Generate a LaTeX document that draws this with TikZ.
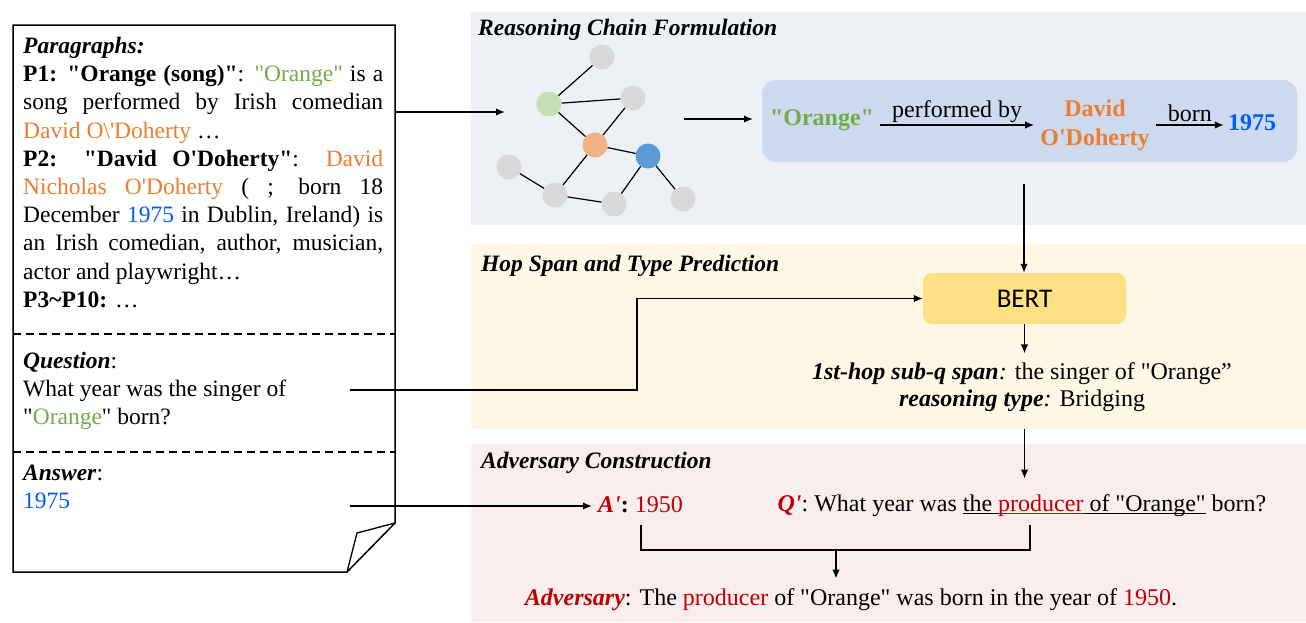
\documentclass[tikz,border=0pt]{standalone}
\usepackage{fontspec}
\setmainfont{Liberation Serif}[Ligatures=TeXOff]
\newfontfamily\bertfont{Carlito}
\usetikzlibrary{arrows.meta,positioning}

\definecolor{qgreen}{RGB}{112,173,71}
\definecolor{qorange}{RGB}{237,125,49}
\definecolor{qblue}{RGB}{0,92,255}
\definecolor{qred}{RGB}{192,0,0}
\definecolor{pnlgray}{RGB}{237,240,245}
\definecolor{pnlyellow}{RGB}{254,247,230}
\definecolor{pnlpink}{RGB}{249,237,237}
\definecolor{chainfill}{RGB}{205,218,240}
\definecolor{bertfill}{RGB}{255,224,133}
\definecolor{ngray}{RGB}{217,217,217}
\definecolor{ngreen}{RGB}{197,224,180}
\definecolor{norange}{RGB}{244,177,131}
\definecolor{nblue}{RGB}{91,155,213}

\newsavebox\ulbox
\newcommand\ulpart[1]{\sbox\ulbox{#1}\rlap{\rule[-3pt]{\wd\ulbox}{1.4pt}}\usebox\ulbox}

\tikzset{
	arr/.style={-{Latex[length=9pt,width=7.5pt]}, line width=1.5pt},
	gnode/.style={circle, minimum size=25pt, inner sep=0pt},
	gedge/.style={line width=1.2pt},
	paneltitle/.style={anchor=base west, inner sep=0pt, font=\fontsize{23.5}{28}\selectfont\bfseries\itshape},
	doctext/.style={anchor=north west, inner sep=0pt, text width=360pt, align=justify, font=\fontsize{23.5}{28.2}\selectfont},
	txt/.style={font=\fontsize{24}{28}\selectfont},
	chainword/.style={font=\fontsize{24}{29}\selectfont\bfseries},
}

\begin{document}
\begin{tikzpicture}[x=1pt, y=-1pt]
	\useasboundingbox (0,0) rectangle (1306,622);
	\fill[pnlgray] (471,12) rectangle (1306,225);
	\fill[pnlyellow] (471,244) rectangle (1306,429);
	\fill[pnlpink] (471,444) rectangle (1306,622);

	\draw[line width=1.5pt] (13,25) -- (395,25) -- (395,523) -- (347,572) -- (13,572) -- cycle;
	\draw[line width=1.3pt] (347,572) -- (357,533) -- (395,523);
	\draw[line width=1.8pt, dash pattern=on 8pt off 5pt] (13,334) -- (395,334) (13,452) -- (395,452);

	\node[doctext] (paras) at (23,37) {\textbf{\textit{Paragraphs:}}\\
		\textbf{P1: "Orange (song)"}: \textcolor{qgreen}{"Orange"} is a\linebreak
		song performed by Irish comedian\linebreak
		\textcolor{qorange}{David O\textbackslash'Doherty} …\\
		\textbf{P2: "David O'Doherty"}: \textcolor{qorange}{David\linebreak
		Nicholas O'Doherty} ( ; born 18\linebreak
		December \textcolor{qblue}{1975} in Dublin, Ireland) is\linebreak
		an Irish comedian, author, musician,\linebreak
		actor and playwright…\\
		\textbf{P3\textasciitilde P10:} …};
	\node[doctext] (question) at (23,352) {\textbf{\textit{Question}}:\\
		What year was the singer of\\
		"\textcolor{qgreen}{Orange}" born?};
	\node[doctext] (answer) at (23,465) {\textbf{\textit{Answer}}:\\
		\textcolor{qblue}{1975}};
	\coordinate (pout) at (395,112);
	\coordinate (qout) at (350,390);
	\coordinate (aout) at (350,506);

	\node[paneltitle] (rtitle) at (478,35) {Reasoning Chain Formulation};
	\node[paneltitle] (htitle) at (481,271) {Hop Span and Type Prediction};
	\node[paneltitle] (atitle) at (481,468) {Adversary Construction};

	\node[gnode, fill=ngray] (g1) at (602,57) {};
	\node[gnode, fill=ngray] (g2) at (633,98) {};
	\node[gnode, fill=ngray] (g3) at (509,167) {};
	\node[gnode, fill=ngray] (g4) at (555,195) {};
	\node[gnode, fill=ngray] (g5) at (614,204) {};
	\node[gnode, fill=ngray] (g6) at (683,199) {};
	\node[gnode, fill=ngreen] (nsong) at (549,104) {};
	\node[gnode, fill=norange] (nsinger) at (595,145) {};
	\node[gnode, fill=nblue] (nyear) at (648,156) {};
	\foreach \a/\b in {nsong/g1, nsong/g2, nsong/nsinger, g2/nsinger, nsinger/nyear, nsinger/g4, g3/g4, g4/g5, g5/nyear, nyear/g6}
		\draw[gedge] (\a) -- (\b);

	\coordinate (gin) at (505,112);
	\coordinate (gout) at (684,119);
	\coordinate (cin) at (753,119);
	\draw[arr] (pout) -- (gin);
	\draw[arr] (gout) -- (cin);

	\node[fill=chainfill, rounded corners=14pt, minimum width=535pt, minimum height=82pt] (chain) at (1029.5,121) {};
	\node[chainword, text=qgreen, anchor=base, inner xsep=6pt] (orng) at (822,125) {"Orange"};
	\node[chainword, text=qorange, align=center, inner xsep=6pt] (david) at (1095,125) {David\\O'Doherty};
	\node[chainword, text=qblue, anchor=base, inner xsep=4pt] (year) at (1252,130) {1975};
	\draw[arr] (orng.east |- david.west) -- node[txt, above, inner sep=2pt] {performed by} (david.west);
	\draw[arr] (david.east) -- node[txt, above, inner sep=3pt] {born} (david.east -| year.west);

	\coordinate (cdown) at (1024,184);
	\node[fill=bertfill, rounded corners=9pt, minimum width=203pt, minimum height=51pt, font=\bertfont\fontsize{27}{32}\selectfont] (bert) at (1024.5,298.5) {BERT};
	\draw[arr] (cdown) -- (cdown |- bert.north);
	\draw[arr] (qout) -- ++(287,0) |- (bert.west);

	\node[align=center, font=\fontsize{24}{27}\selectfont] (span) at (1022,387.5) {\textbf{\textit{1st-hop sub-q span}}\textit{:} the singer of "Orange”\\
		\textbf{\textit{reasoning type}}\textit{:} Bridging};
	\draw[arr] (bert.south) -- ([yshift=6pt]bert.south |- span.north);

	\node[txt, anchor=base] (qprime) at (1022,511) {\textcolor{qred}{\textbf{\textit{Q'}}}: What year was \ulpart{the }\textcolor{qred}{\ulpart{producer}}\ulpart{ of "Orange"} born?};
	\node[txt, anchor=base west, inner xsep=6pt] (aprime) at (592,512) {\textcolor{qred}{\textbf{\textit{A'}}}\textbf{:} \textcolor{qred}{1950}};
	\draw[arr] ([yshift=-13pt]bert.south |- span.south) -- ([yshift=12pt]bert.south |- qprime.north);
	\draw[arr] (aout) -- (aout -| aprime.west);

	\coordinate (afoot) at (641,525);
	\coordinate (qfoot) at (1030,525);
	\coordinate (bmid) at (836,550);
	\draw[line width=1.5pt] (afoot) -- ++(0,25) -| (qfoot);
	\node[txt, anchor=base] (adv) at (851,605) {\textcolor{qred}{\textbf{\textit{Adversary}}}: The \textcolor{qred}{producer} of "Orange" was born in the year of \textcolor{qred}{1950}.};
	\draw[arr] (bmid) -- ([yshift=6pt]bmid |- adv.north);
\end{tikzpicture}
\end{document}
